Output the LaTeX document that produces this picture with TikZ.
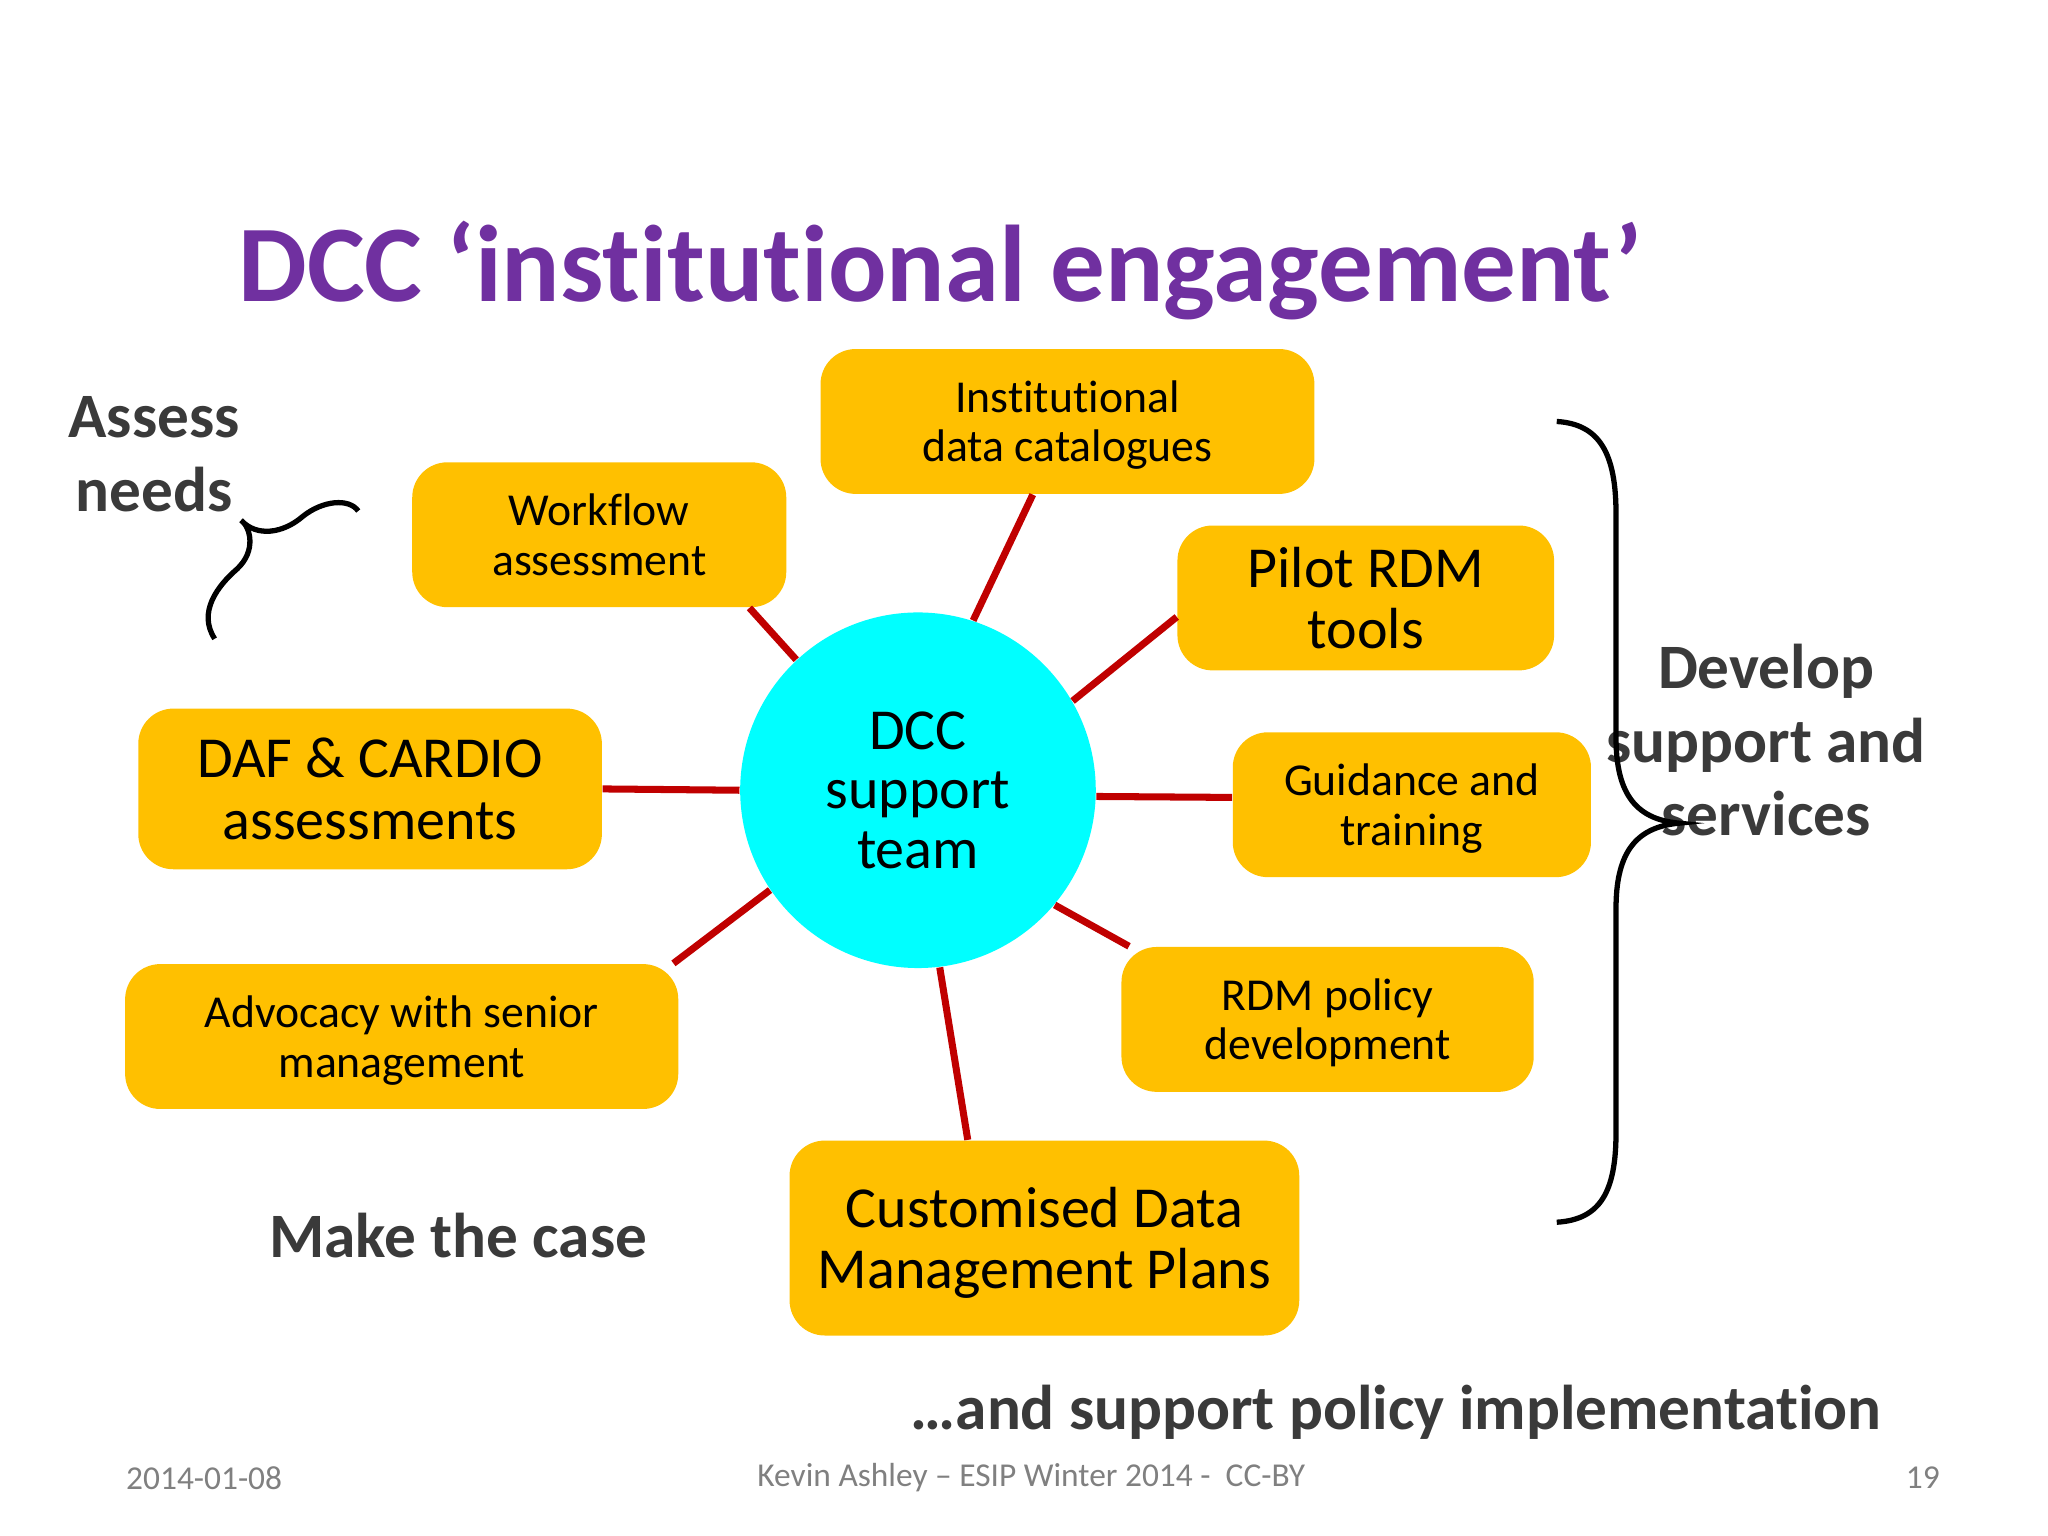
\documentclass[tikz,border=0pt]{standalone}
\usepackage{fontspec}
\setmainfont{Carlito}[Ligatures=NoCommon]
\usetikzlibrary{calc}
\begin{document}
\begin{tikzpicture}[x=0.01317cm,y=-0.01317cm,
 box/.style={fill=boxc,rounded corners=10pt,inner sep=0pt,align=center,text=black},
 con/.style={draw=redc,line width=2pt},
 lab/.style={font=\fontsize{18}{21}\selectfont\bfseries,text=darkt,align=center}]
\definecolor{boxc}{HTML}{FFC000}
\definecolor{redc}{HTML}{C00000}
\definecolor{purp}{HTML}{7030A0}
\definecolor{darkt}{HTML}{3A3A3A}
\definecolor{cy}{HTML}{00FFFF}
\useasboundingbox (0,0) rectangle (1555,1166);
\node[font=\fontsize{31}{36}\selectfont\bfseries,text=purp] (title) at (714,205) {DCC ‘institutional engagement’};
\newcommand{\bx}[6]{\node[box,minimum width=#3*0.01317cm,minimum height=#4*0.01317cm,font=\fontsize{#6}{#6}\selectfont,text depth=0pt] (#1) at (#2) {#5};}
\bx{inst}{810.5,320}{375}{110}{Institutional\\[1pt]data catalogues}{13}
\bx{work}{455,406}{284}{110}{Workflow\\[1pt]assessment}{13}
\bx{pilot}{1037,454}{286}{110}{Pilot RDM\\[1pt]tools}{16.5}
\bx{daf}{281,599}{352}{122}{DAF \& CARDIO\\[1pt]assessments}{16.5}
\bx{guid}{1072,611}{272}{110}{Guidance and\\[1pt]training}{13}
\bx{adv}{305,787}{420}{110}{Advocacy with senior\\[1pt]management}{13}
\bx{rdm}{1008,774}{313}{110}{RDM policy\\[1pt]development}{13}
\bx{cust}{793,940}{387}{148}{Customised Data\\[1pt]Management Plans}{16.5}
\node[circle,fill=cy,minimum size=270*0.01317cm,inner sep=0pt,align=center,font=\fontsize{16.5}{17}\selectfont] (c) at (697,600) {DCC\\support\\team};
\draw[con] (c.72) -- ($(inst.south west)!0.43!(inst.south east)$);
\draw[con] (c.133) -- ($(work.south west)!0.9!(work.south east)$);
\draw[con] (c.30) -- ($(pilot.north west)!0.63!(pilot.south west)$);
\draw[con] (c.180) -- (daf.east);
\draw[con] (c.-2) -- ($(guid.north west)!0.45!(guid.south west)$);
\draw[con] (c.-146) -- ($(adv.north west)!0.99!(adv.north east)$);
\draw[con] (c.-40) -- ($(rdm.north west)!0.02!(rdm.north east)$);
\draw[con] (c.-83) -- ($(cust.north west)!0.35!(cust.north east)$);
\node[lab] (as) at (117,345) {Assess\\needs};
\node[lab] (dev) at (1341,562) {Develop\\support and\\services};
\node[lab] (mk) at (348,938) {Make the case};
\node[lab] (pol) at (1060,1072) {…and support policy implementation};
\draw[line width=1.5pt] (1182,320) .. controls (1215,322) and (1227,345) .. (1227,390) -- (1227,560) .. controls (1227,600) and (1240,622) .. (1275,625) .. controls (1240,628) and (1227,650) .. (1227,690) -- (1227,860) .. controls (1227,905) and (1215,926) .. (1182,928);
\draw[line width=1.5pt] (163,485) .. controls (150,465) and (165,445) .. (180,432) .. controls (195,418) and (190,400) .. (183,395) .. controls (195,408) and (215,405) .. (230,392) .. controls (245,380) and (265,378) .. (272,388);
\begin{scope}[font=\fontsize{9.5}{11}\selectfont,text=gray]
\node (d) at (155,1122) {2014-01-08};
\node (a) at (783,1122) {Kevin Ashley – ESIP Winter 2014 -\ \ CC-BY};
\node (n) at (1460,1122) {19};
\end{scope}
\end{tikzpicture}
\end{document}
